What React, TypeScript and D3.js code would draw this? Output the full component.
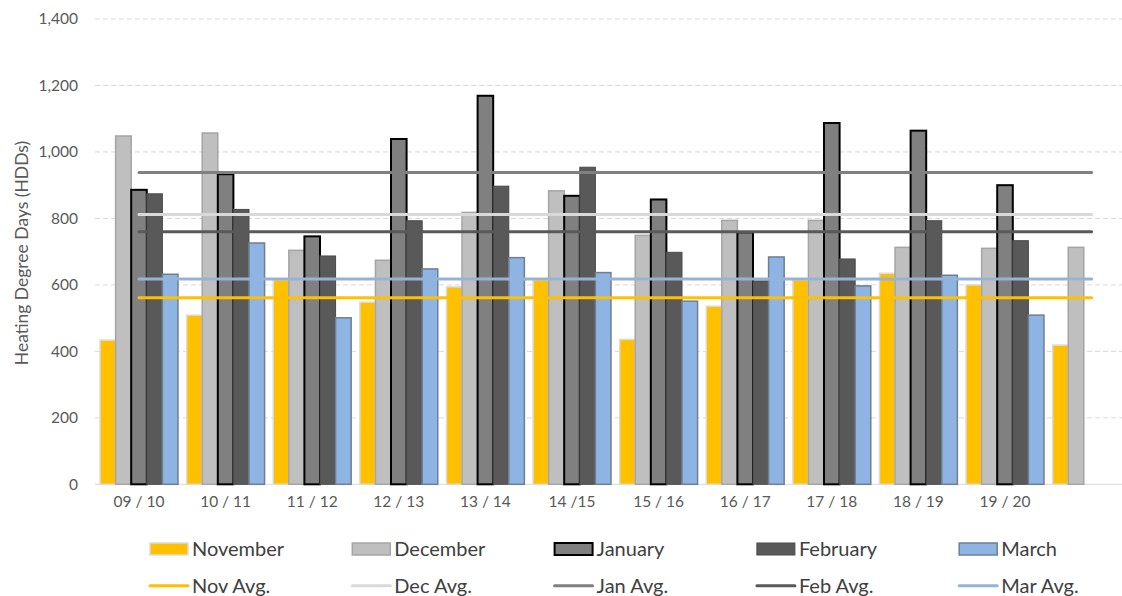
import React, { useEffect, useRef } from 'react';
import * as d3 from 'd3';

// heating seasons, the last one has no label on the axis
const seasons = ['09/10', '10/11', '11/12', '12/13', '13/14', '14/15', '15/16', '16/17', '17/18', '18/19', '19/20', '20/21'];
const seasonLabels = ['09 / 10', '10 / 11', '11 / 12', '12 / 13', '13 / 14', '14 /15', '15 / 16', '16 / 17', '17 / 18', '18 / 19', '19 / 20', ''];

const november = [434, 509, 615, 548, 594, 615, 436, 536, 615, 635, 600, 419];
const december = [1048, 1057, 704, 674, 818, 883, 749, 794, 794, 713, 710, 713];
const january = [886, 933, 746, 1039, 1169, 868, 857, 758, 1087, 1064, 900, null];
const february = [874, 827, 687, 793, 897, 954, 698, 612, 678, 793, 733, null];
const march = [632, 726, 501, 648, 682, 637, 551, 684, 597, 629, 509, null];

const monthNames = ['November', 'December', 'January', 'February', 'March'];
const avgNames = ['Nov Avg.', 'Dec Avg.', 'Jan Avg.', 'Feb Avg.', 'Mar Avg.'];
const avgValues = [561, 812, 938, 760, 618];

const yTicks = [0, 200, 400, 600, 800, 1000, 1200, 1400];

const barStyles = [
  { fill: '#FFC000', stroke: '#DCDCDC', width: 1.5 },
  { fill: '#BFBFBF', stroke: '#A5A5A5', width: 1.5 },
  { fill: '#808080', stroke: '#000000', width: 2 },
  { fill: '#595959', stroke: '#4A4A4A', width: 1 },
  { fill: '#8EB4E3', stroke: '#6F7F90', width: 1.5 }
];
const avgColors = ['#FFC000', '#D9D9D9', '#808080', '#595959', '#95B3D7'];

const width = 1122;
const height = 596;
const font = 'Lato, "Open Sans", sans-serif';

export default function App() {
  const ref = useRef(null);

  useEffect(() => {
    let svg = d3.select(ref.current);
    svg.selectAll('*').remove();

    let monthly = [november, december, january, february, march];

    let x = d3
      .scaleBand()
      .domain(seasons)
      .range([95.7, 1134.9])
      .paddingInner(0.1)
      .paddingOuter(0.05);

    let xInner = d3
      .scaleBand()
      .domain(monthNames)
      .range([0, x.bandwidth()]);

    let y = d3
      .scaleLinear()
      .domain([0, 1400])
      .range([484.3, 19]);

    // gridlines
    svg
      .append('g')
      .selectAll('line')
      .data(yTicks)
      .enter()
      .append('line')
      .attr('x1', 95)
      .attr('x2', width)
      .attr('y1', d => y(d))
      .attr('y2', d => y(d))
      .attr('stroke', '#D9D9D9')
      .attr('stroke-width', 1)
      .attr('stroke-dasharray', d => (d === 0 ? null : '5,3'));

    // y axis
    let yAxis = svg
      .append('g')
      .attr('transform', 'translate(80,0)')
      .call(d3.axisLeft(y).tickValues(yTicks).tickFormat(d3.format(',')).tickSize(0).tickPadding(2));
    yAxis.select('.domain').remove();
    yAxis
      .selectAll('text')
      .attr('font-family', font)
      .attr('font-size', 15.5)
      .attr('fill', '#595959');

    // x axis
    let xAxis = svg
      .append('g')
      .attr('transform', 'translate(0,' + y(0) + ')')
      .call(d3.axisBottom(x).tickFormat((d, i) => seasonLabels[i]).tickSize(0).tickPadding(12));
    xAxis.select('.domain').remove();
    xAxis
      .selectAll('text')
      .attr('font-family', font)
      .attr('font-size', 15.5)
      .attr('fill', '#595959');

    // axis title
    svg
      .append('text')
      .attr('transform', 'translate(28,253) rotate(-90)')
      .attr('text-anchor', 'middle')
      .attr('font-family', font)
      .attr('font-size', 17.5)
      .attr('fill', '#595959')
      .text('Heating Degree Days (HDDs)');

    // bars
    monthly.forEach((values, i) => {
      let style = barStyles[i];
      svg
        .append('g')
        .selectAll('rect')
        .data(values.map((v, j) => ({ season: seasons[j], value: v })).filter(d => d.value !== null))
        .enter()
        .append('rect')
        .attr('x', d => x(d.season) + xInner(monthNames[i]))
        .attr('width', xInner.bandwidth())
        .attr('y', d => y(d.value))
        .attr('height', d => y(0) - y(d.value))
        .attr('fill', style.fill)
        .attr('stroke', style.stroke)
        .attr('stroke-width', style.width);
    });

    // average lines
    avgValues.forEach((v, i) => {
      let line = d3
        .line()
        .x(d => x(d) + x.bandwidth() / 2)
        .y(() => y(v));
      svg
        .append('path')
        .attr('d', line(seasons))
        .attr('fill', 'none')
        .attr('stroke', avgColors[i])
        .attr('stroke-width', 3)
        .attr('stroke-linecap', 'round');
    });

    // legend
    let legendX = i => 150 + i * 202.3;
    let legend = svg.append('g');
    monthNames.forEach((name, i) => {
      let style = barStyles[i];
      legend
        .append('rect')
        .attr('x', legendX(i))
        .attr('y', 543)
        .attr('width', 38)
        .attr('height', 12)
        .attr('fill', style.fill)
        .attr('stroke', style.stroke)
        .attr('stroke-width', style.width);
      legend
        .append('text')
        .attr('x', legendX(i) + 42)
        .attr('y', 549)
        .attr('dy', '0.35em')
        .attr('font-family', font)
        .attr('font-size', 20)
        .attr('fill', '#404040')
        .text(name);
    });
    avgNames.forEach((name, i) => {
      legend
        .append('line')
        .attr('x1', legendX(i))
        .attr('x2', legendX(i) + 38)
        .attr('y1', 585.7)
        .attr('y2', 585.7)
        .attr('stroke', avgColors[i])
        .attr('stroke-width', 3)
        .attr('stroke-linecap', 'round');
      legend
        .append('text')
        .attr('x', legendX(i) + 42)
        .attr('y', 585.7)
        .attr('dy', '0.35em')
        .attr('font-family', font)
        .attr('font-size', 20)
        .attr('fill', '#404040')
        .text(name);
    });
  }, []);

  return (
    <svg
      ref={ref}
      width={width}
      height={height}
      style={{ position: 'absolute', left: 0, top: 0, background: '#fff' }}
    />
  );
}
